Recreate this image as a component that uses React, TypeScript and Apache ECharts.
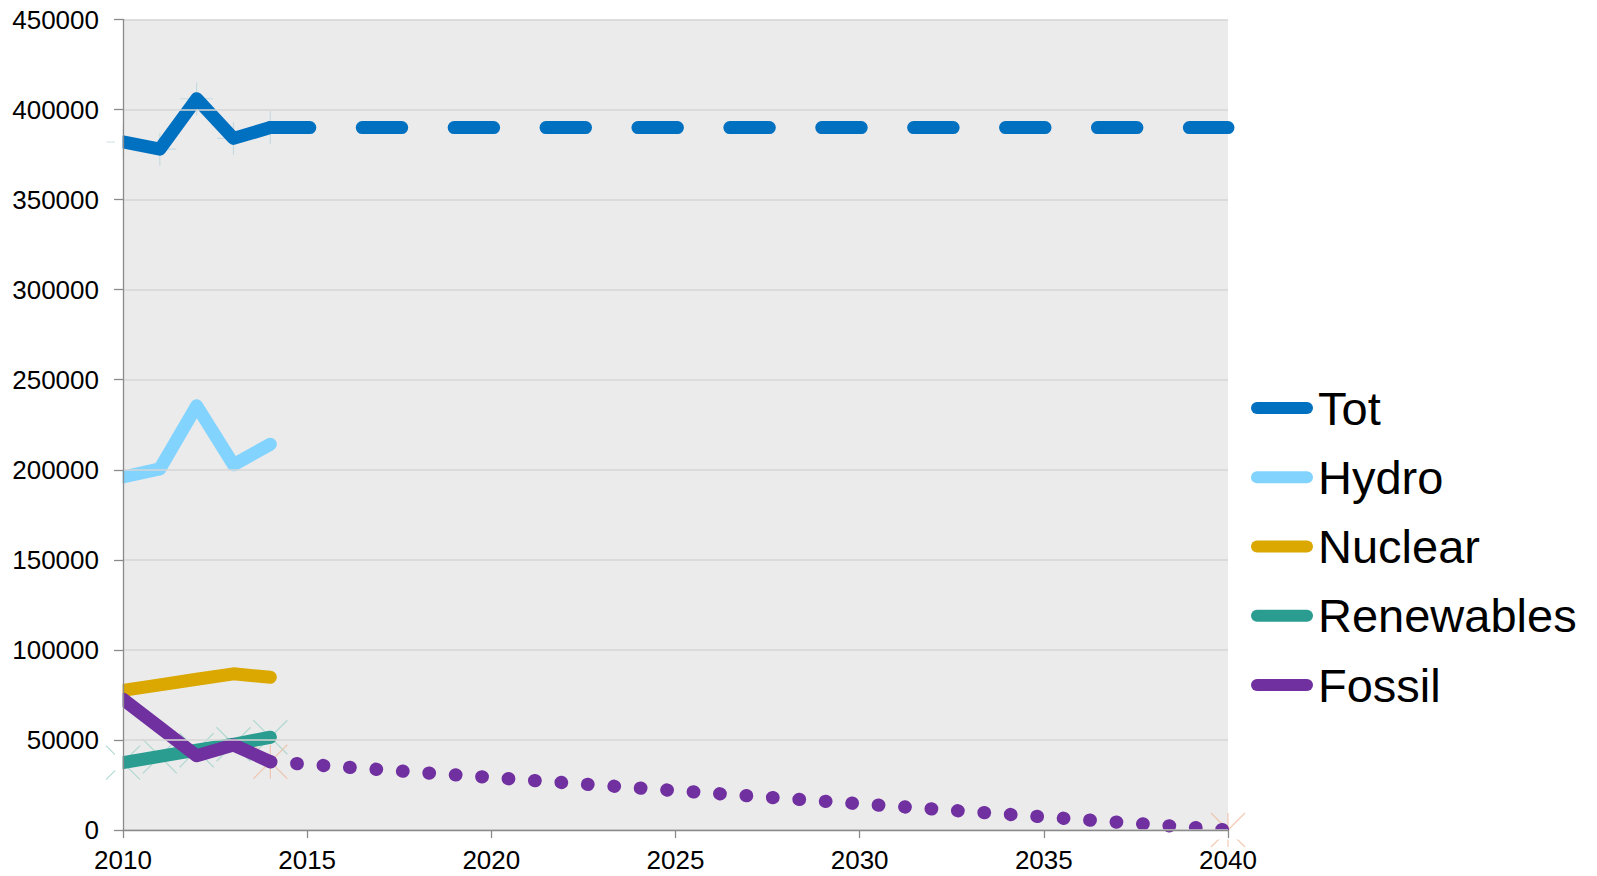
import React, { useEffect, useRef } from "react";
import * as echarts from "echarts";

// ---- Data ----
const years = [2010, 2011, 2012, 2013, 2014];
const totValues = [382000, 378000, 406000, 384000, 390000];
const hydroValues = [196000, 200500, 235500, 202800, 214200];
const nuclearValues = [77500, 80600, 83700, 86700, 84800];
const renewablesValues = [37400, 40900, 44300, 47600, 51500];
const fossilValues = [72600, 56900, 41200, 47200, 37900];

const projectionYears = [2014, 2040];
const totProjection = [390000, 390000];
const fossilProjection = [37900, 0];

const seriesNames = ["Tot", "Hydro", "Nuclear", "Renewables", "Fossil"];
const seriesColors = ["#0070c0", "#83d3ff", "#daa800", "#2a9d90", "#7030a0"];

const xMin = 2010;
const xMax = 2040;
const xInterval = 5;
const yMin = 0;
const yMax = 450000;
const yInterval = 50000;

const FONT = "'Liberation Sans', Arial, sans-serif";

// layout (pixels)
const GRID_LEFT = 123;
const GRID_RIGHT_X = 1228;
const GRID_TOP = 19.5;
const GRID_BOTTOM_Y = 830;

const pair = (xs: number[], ys: number[]) => xs.map((x, i) => [x, ys[i]]);

const PLUS = "path://M0,5L10,5M5,0L5,10";
const CROSS = "path://M0,0L10,10M10,0L0,10";
const STAR = "path://M0,0L10,10M10,0L0,10M5,0L5,10";
const PILL = "path://M6,0L56,0A6,6,0,0,1,56,12L6,12A6,6,0,0,1,6,0Z";

export default function App() {
  const ref = useRef<HTMLDivElement>(null);

  useEffect(() => {
    if (!ref.current) return;
    const chart = echarts.init(ref.current, null, { renderer: "svg" });

    const lineSeries = (name: string, vals: number[], color: string) => ({
      name,
      type: "line",
      data: pair(years, vals),
      showSymbol: false,
      symbol: "none",
      z: 3,
      itemStyle: { color },
      lineStyle: { color, width: 13, cap: "round", join: "round" },
    });

    const markerSeries = (vals: number[], xs: number[], symbol: string, color: string, size: number) => ({
      type: "scatter",
      data: pair(xs, vals),
      symbol,
      symbolSize: size,
      z: 1,
      silent: true,
      itemStyle: { color: "none", borderColor: color, borderWidth: 1.2 },
    });

    const option = {
      animation: false,
      backgroundColor: "#ffffff",
      grid: {
        left: GRID_LEFT,
        right: 1597 - GRID_RIGHT_X,
        top: GRID_TOP,
        bottom: 876 - GRID_BOTTOM_Y,
        show: true,
        backgroundColor: "#ebebeb",
        borderWidth: 0,
      },
      graphic: [
        // mask the round caps that spill left of the plot area
        {
          type: "rect",
          z: 5,
          silent: true,
          shape: { x: GRID_LEFT - 8, y: 0, width: 7.6, height: 876 },
          style: { fill: "#ffffff" },
        },
        // mask the lower half of the last dot below the plot area
        {
          type: "rect",
          z: 5,
          silent: true,
          shape: { x: GRID_RIGHT_X - 40, y: GRID_BOTTOM_Y + 0.6, width: 60, height: 9 },
          style: { fill: "#ffffff" },
        },
      ],
      legend: {
        orient: "vertical",
        left: 1251,
        top: 380,
        padding: 0,
        itemGap: 13.25,
        itemWidth: 62,
        itemHeight: 12,
        itemStyle: { borderWidth: 0 },
        textStyle: { fontSize: 47, fontFamily: FONT, color: "#000", lineHeight: 56 },
        data: seriesNames.map((n) => ({ name: n, icon: PILL })),
      },
      xAxis: {
        type: "value",
        min: xMin,
        max: xMax,
        interval: xInterval,
        z: 10,
        axisLine: { show: true, onZero: false, lineStyle: { color: "#8a8a8a", width: 1.3 } },
        axisTick: { show: true, length: 8, lineStyle: { color: "#8a8a8a", width: 1.3 } },
        splitLine: { show: false },
        axisLabel: {
          margin: 17,
          fontSize: 26,
          lineHeight: 26,
          fontFamily: FONT,
          color: "#000",
          formatter: (v: number) => String(v),
        },
      },
      yAxis: {
        type: "value",
        min: yMin,
        max: yMax,
        interval: yInterval,
        z: 10,
        axisLine: { show: true, lineStyle: { color: "#8a8a8a", width: 1.3 } },
        axisTick: { show: true, length: 9, lineStyle: { color: "#8a8a8a", width: 1.3 } },
        splitLine: { show: true, lineStyle: { color: "#d6d6d6", width: 1.5 } },
        axisLabel: {
          margin: 24,
          fontSize: 26,
          fontFamily: FONT,
          color: "#000",
          formatter: (v: number) => String(v),
        },
      },
      series: [
        markerSeries(totValues, years, PLUS, "#bfd6dd", 33),
        markerSeries(renewablesValues, years, CROSS, "#a3d3cb", 34),
        markerSeries(fossilProjection, projectionYears, STAR, "#efbda4", 34),
        {
          name: "Tot projection",
          type: "line",
          data: pair(projectionYears, totProjection),
          showSymbol: false,
          symbol: "none",
          z: 2,
          lineStyle: { color: seriesColors[0], width: 13, cap: "round", type: [39.5, 52.4] },
        },
        {
          name: "Fossil projection",
          type: "line",
          data: pair(projectionYears, fossilProjection),
          showSymbol: false,
          symbol: "none",
          z: 2,
          lineStyle: { color: seriesColors[4], width: 13.3, cap: "round", type: [0.5, 26] },
        },
        lineSeries("Tot", totValues, seriesColors[0]),
        lineSeries("Hydro", hydroValues, seriesColors[1]),
        lineSeries("Nuclear", nuclearValues, seriesColors[2]),
        lineSeries("Renewables", renewablesValues, seriesColors[3]),
        lineSeries("Fossil", fossilValues, seriesColors[4]),
      ],
    };

    chart.setOption(option as any);
    return () => {
      chart.dispose();
    };
  }, []);

  return (
    <div
      ref={ref}
      style={{ position: "absolute", left: 0, top: 0, width: 1597, height: 876 }}
    />
  );
}
